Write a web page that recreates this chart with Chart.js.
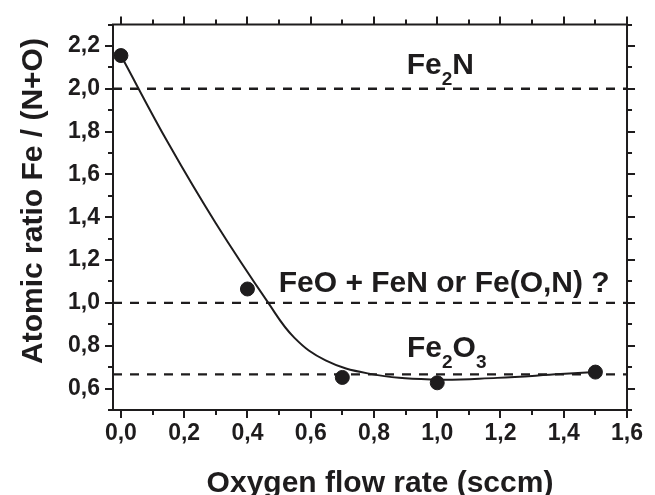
<!DOCTYPE html>
<html>
<head>
<meta charset="utf-8">
<script src="https://cdn.jsdelivr.net/npm/chart.js@4.4.1/dist/chart.umd.min.js"></script>
<style>
  html, body { margin: 0; padding: 0; background: #fff; }
  #c { display: block; }
</style>
</head>
<body>
<canvas id="c" width="655" height="495"></canvas>
<script>
// Measured Fe/(N+O) ratios versus oxygen flow
const flowRate = [0.0, 0.4, 0.7, 1.0, 1.5];
const ratio = [2.155, 1.065, 0.652, 0.627, 0.677];

// Guide-to-the-eye fit curve
const fitFlow = [0.0, 0.15, 0.30, 0.466, 0.548, 0.647, 0.78, 0.98, 1.19, 1.39, 1.5];
const fitRatio = [2.155, 1.745, 1.372, 1.0, 0.838, 0.732, 0.671, 0.642, 0.650, 0.668, 0.677];

// Stoichiometric reference levels: Fe2N, FeO/FeN, Fe2O3
const phaseLevels = [2.0, 1.0, 2 / 3];

// Axis ticks
const xTickValues = [0.0, 0.2, 0.4, 0.6, 0.8, 1.0, 1.2, 1.4, 1.6];
const xTickLabels = ['0,0', '0,2', '0,4', '0,6', '0,8', '1,0', '1,2', '1,4', '1,6'];
const xMinorTicks = [0.1, 0.3, 0.5, 0.7, 0.9, 1.1, 1.3, 1.5];
const yTickValues = [0.6, 0.8, 1.0, 1.2, 1.4, 1.6, 1.8, 2.0, 2.2];
const yTickLabels = ['0,6', '0,8', '1,0', '1,2', '1,4', '1,6', '1,8', '2,0', '2,2'];
const yMinorTicks = [0.5, 0.7, 0.9, 1.1, 1.3, 1.5, 1.7, 1.9, 2.1, 2.3];

const X_MIN = -0.025, X_MAX = 1.6, Y_MIN = 0.5, Y_MAX = 2.3;
const INK = '#1e1c1d';
const FONT = '"Liberation Sans", Arial, Helvetica, sans-serif';

const phaseLabels = [
  { parts: [['Fe', false], ['2', true], ['N', false]], x: 1.01, y: 2.07 },
  { parts: [['FeO + FeN or Fe(O,N) ?', false]], x: 1.022, y: 1.049 },
  { parts: [['Fe', false], ['2', true], ['O', false], ['3', true]], x: 1.03, y: 0.748 }
];

function drawRich(ctx, parts, cx, baseY) {
  const size = 30, subSize = 19, subDrop = 11.5;
  const widths = parts.map(([t, sub]) => {
    ctx.font = `bold ${sub ? subSize : size}px ${FONT}`;
    return ctx.measureText(t).width;
  });
  const total = widths.reduce((a, b) => a + b, 0);
  let x = cx - total / 2;
  parts.forEach(([t, sub], i) => {
    ctx.font = `bold ${sub ? subSize : size}px ${FONT}`;
    ctx.fillText(t, x, sub ? baseY + subDrop : baseY);
    x += widths[i];
  });
}

// Boxed frame with outward ticks on all four sides, axis titles and phase labels
const framePlugin = {
  id: 'frame',
  afterDraw(chart) {
    const { ctx, chartArea: a, scales: { x, y } } = chart;
    ctx.save();
    ctx.strokeStyle = INK;
    ctx.lineWidth = 2;
    ctx.lineCap = 'butt';
    ctx.strokeRect(a.left, a.top, a.right - a.left, a.bottom - a.top);

    const major = 8, minor = 5;
    ctx.beginPath();
    const xt = (vals, len) => vals.forEach(v => {
      const px = Math.round(x.getPixelForValue(v));
      ctx.moveTo(px, a.bottom); ctx.lineTo(px, a.bottom + len);
      ctx.moveTo(px, a.top); ctx.lineTo(px, a.top - len);
    });
    const yt = (vals, len) => vals.forEach(v => {
      const py = Math.round(y.getPixelForValue(v));
      ctx.moveTo(a.left, py); ctx.lineTo(a.left - len, py);
      ctx.moveTo(a.right, py); ctx.lineTo(a.right + len, py);
    });
    xt(xTickValues, major); xt(xMinorTicks, minor);
    yt(yTickValues, major); yt(yMinorTicks, minor);
    ctx.stroke();

    ctx.fillStyle = INK;
    ctx.textAlign = 'left';
    ctx.textBaseline = 'alphabetic';
    phaseLabels.forEach(l => drawRich(ctx, l.parts, x.getPixelForValue(l.x), y.getPixelForValue(l.y)));

    ctx.font = `bold 30px ${FONT}`;
    ctx.textAlign = 'center';
    ctx.fillText('Oxygen flow rate (sccm)', 380, 491.5);
    ctx.save();
    ctx.translate(41.5, 201);
    ctx.rotate(-Math.PI / 2);
    ctx.fillText('Atomic ratio Fe / (N+O)', 0, 0);
    ctx.restore();
    ctx.restore();
  }
};

const levelSets = phaseLevels.map(v => ({
  type: 'line',
  data: [{ x: X_MIN, y: v }, { x: X_MAX, y: v }],
  borderColor: INK,
  borderWidth: 2.3,
  borderDash: [9, 8],
  pointRadius: 0,
  order: 3
}));

new Chart(document.getElementById('c'), {
  type: 'scatter',
  data: {
    datasets: [
      ...levelSets,
      {
        type: 'line',
        data: fitFlow.map((f, i) => ({ x: f, y: fitRatio[i] })),
        borderColor: INK,
        borderWidth: 2,
        tension: 0.4,
        pointRadius: 0,
        order: 2
      },
      {
        data: flowRate.map((f, i) => ({ x: f, y: ratio[i] })),
        backgroundColor: INK,
        borderColor: INK,
        pointRadius: 7,
        order: 1
      }
    ]
  },
  options: {
    responsive: false,
    animation: false,
    layout: { padding: { left: 0, right: 18, top: 22, bottom: 0 } },
    plugins: { legend: { display: false }, tooltip: { enabled: false } },
    scales: {
      x: {
        type: 'linear',
        min: X_MIN,
        max: X_MAX,
        afterBuildTicks: ax => { ax.ticks = xTickValues.map(v => ({ value: v })); },
        afterFit: ax => { ax.height = 85; },
        grid: { display: false, drawTicks: false },
        border: { display: false },
        ticks: {
          padding: 12,
          color: INK,
          maxRotation: 0,
          autoSkip: false,
          font: { family: FONT, size: 23, weight: 'bold', lineHeight: 1 },
          callback: (v, i) => xTickLabels[i]
        }
      },
      y: {
        type: 'linear',
        min: Y_MIN,
        max: Y_MAX,
        afterBuildTicks: ax => { ax.ticks = yTickValues.map(v => ({ value: v })); },
        afterFit: ax => { ax.width = 113; },
        grid: { display: false, drawTicks: false },
        border: { display: false },
        ticks: {
          padding: 13,
          color: INK,
          autoSkip: false,
          font: { family: FONT, size: 23, weight: 'bold', lineHeight: 1 },
          callback: (v, i) => yTickLabels[i]
        }
      }
    }
  },
  plugins: [framePlugin]
});
</script>
</body>
</html>
